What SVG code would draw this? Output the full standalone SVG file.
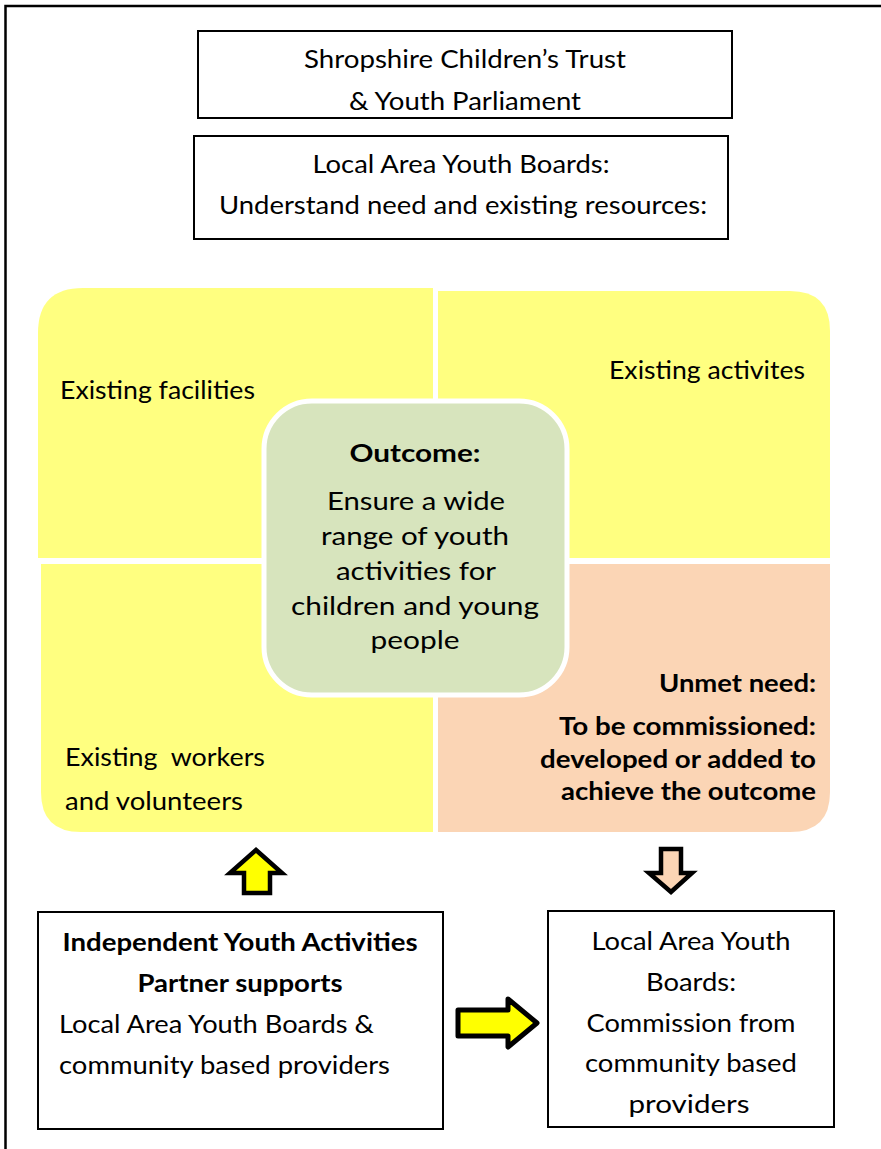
<svg xmlns="http://www.w3.org/2000/svg" width="881" height="1149" viewBox="0 0 881 1149">
  <style>
    .t { font-family: Lato, "Liberation Sans", sans-serif; font-size: 25px; fill: #000; }
    .b { font-weight: bold; }
    .box { fill: #fff; stroke: #000; stroke-width: 2; }
    .arrow { stroke: #000; stroke-width: 4.5; stroke-linejoin: miter; }
  </style>
  <defs>
    <clipPath id="clipTop">
      <rect x="198" y="31" width="534" height="80"/>
    </clipPath>
  </defs>
  <rect x="0" y="0" width="881" height="1149" fill="#fff"/>
  <rect id="frame" x="5.5" y="6" width="900" height="1200" fill="none" stroke="#000" stroke-width="2.5"/>

  <g id="trust">
    <rect class="box" x="198" y="31" width="534" height="87"/>
    <g clip-path="url(#clipTop)">
      <text class="t" x="465" y="68" text-anchor="middle" textLength="322" lengthAdjust="spacingAndGlyphs">Shropshire Children’s Trust</text>
      <text class="t" x="465" y="110" text-anchor="middle" textLength="232" lengthAdjust="spacingAndGlyphs">&amp; Youth Parliament</text>
    </g>
  </g>

  <g id="boards-understand">
    <rect class="box" x="194" y="136" width="534" height="103"/>
    <text class="t" x="461" y="173" text-anchor="middle" textLength="297" lengthAdjust="spacingAndGlyphs">Local Area Youth Boards:</text>
    <text class="t" x="463" y="214" text-anchor="middle" textLength="488" lengthAdjust="spacingAndGlyphs">Understand need and existing resources:</text>
  </g>

  <g id="facilities">
    <path d="M38,333 Q38,288 83,288 L433,288 L433,558 L38,558 Z" fill="#FFFF80"/>
    <text class="t" x="60" y="399" textLength="195" lengthAdjust="spacingAndGlyphs">Existing facilities</text>
  </g>
  <g id="activities">
    <path d="M438,291 L790,291 Q830,291 830,331 L830,558 L438,558 Z" fill="#FFFF80"/>
    <text class="t" x="609" y="379" textLength="196" lengthAdjust="spacingAndGlyphs">Existing activites</text>
  </g>
  <g id="workers">
    <path d="M41,564 L433,564 L433,832 L81,832 Q41,832 41,792 Z" fill="#FFFF80"/>
    <text class="t" x="65" y="766" textLength="200" lengthAdjust="spacingAndGlyphs" style="white-space:pre">Existing  workers</text>
    <text class="t" x="65" y="810" textLength="178" lengthAdjust="spacingAndGlyphs">and volunteers</text>
  </g>
  <g id="unmet">
    <path d="M438,564 L830,564 L830,792 Q830,832 790,832 L438,832 Z" fill="#FBD5B5"/>
    <text class="t b" x="816" y="692" text-anchor="end" textLength="157" lengthAdjust="spacingAndGlyphs">Unmet need:</text>
    <text class="t b" x="816" y="735" text-anchor="end" textLength="257" lengthAdjust="spacingAndGlyphs">To be commissioned:</text>
    <text class="t b" x="816" y="768" text-anchor="end" textLength="276" lengthAdjust="spacingAndGlyphs">developed or added to</text>
    <text class="t b" x="816" y="800" text-anchor="end" textLength="255" lengthAdjust="spacingAndGlyphs">achieve the outcome</text>
  </g>

  <g id="outcome">
    <rect x="264" y="401" width="303" height="294" rx="48" ry="48" fill="#D7E4BD" stroke="#fff" stroke-width="5"/>
    <text class="t b" x="415" y="462" text-anchor="middle" textLength="131" lengthAdjust="spacingAndGlyphs">Outcome:</text>
    <text class="t" x="416" y="510" text-anchor="middle" textLength="178" lengthAdjust="spacingAndGlyphs">Ensure a wide</text>
    <text class="t" x="415" y="545" text-anchor="middle" textLength="188" lengthAdjust="spacingAndGlyphs">range of youth</text>
    <text class="t" x="416" y="580" text-anchor="middle" textLength="160" lengthAdjust="spacingAndGlyphs">activities for</text>
    <text class="t" x="415" y="615" text-anchor="middle" textLength="248" lengthAdjust="spacingAndGlyphs">children and young</text>
    <text class="t" x="415" y="649" text-anchor="middle" textLength="89" lengthAdjust="spacingAndGlyphs">people</text>
  </g>

  <g id="partner">
    <rect class="box" x="38" y="912" width="405" height="217"/>
    <text class="t b" x="240" y="951" text-anchor="middle" textLength="355" lengthAdjust="spacingAndGlyphs">Independent Youth Activities</text>
    <text class="t b" x="240" y="992" text-anchor="middle" textLength="205" lengthAdjust="spacingAndGlyphs">Partner supports</text>
    <text class="t" x="59" y="1033" textLength="315" lengthAdjust="spacingAndGlyphs">Local Area Youth Boards &amp;</text>
    <text class="t" x="59" y="1074" textLength="331" lengthAdjust="spacingAndGlyphs">community based providers</text>
  </g>

  <g id="boards-commission">
    <rect class="box" x="548" y="911" width="286" height="216"/>
    <text class="t" x="691" y="950" text-anchor="middle" textLength="199" lengthAdjust="spacingAndGlyphs">Local Area Youth</text>
    <text class="t" x="691" y="991" text-anchor="middle" textLength="90" lengthAdjust="spacingAndGlyphs">Boards:</text>
    <text class="t" x="691" y="1032" text-anchor="middle" textLength="209" lengthAdjust="spacingAndGlyphs">Commission from</text>
    <text class="t" x="691" y="1072" text-anchor="middle" textLength="212" lengthAdjust="spacingAndGlyphs">community based</text>
    <text class="t" x="689" y="1113" text-anchor="middle" textLength="121" lengthAdjust="spacingAndGlyphs">providers</text>
  </g>

  <g id="connectors">
    <polygon class="arrow" fill="#FFFF00" points="256,850 282,873 270,873 270,893 244,893 244,873 230,873"/>
    <polygon class="arrow" fill="#FBD5B5" points="661,849 681,849 681,873 692,873 671,892 649,873 661,873"/>
    <polygon fill="#FFFF00" stroke="#000" stroke-width="5" stroke-linejoin="round" points="458,1010 508,1010 508,999 537,1023 508,1047 508,1036 458,1036"/>
  </g>
</svg>
